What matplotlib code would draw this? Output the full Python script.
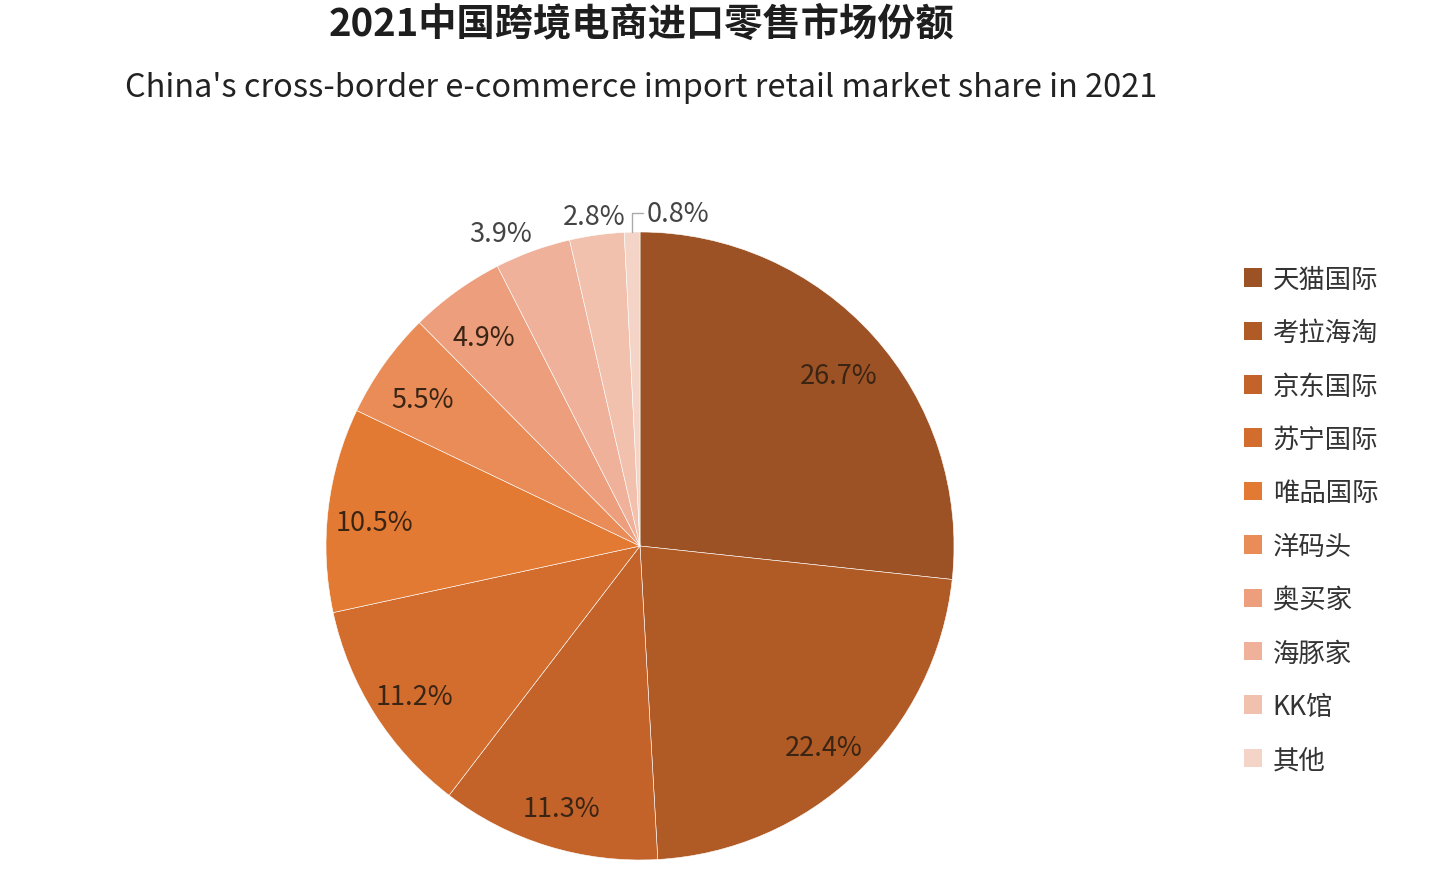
import numpy as np
import matplotlib
matplotlib.use("Agg")
import matplotlib.pyplot as plt
from matplotlib.patches import Patch

plt.rcParams['font.family'] = ['Noto Sans CJK SC', 'DejaVu Sans']

# data
names = ["天猫国际", "考拉海淘", "京东国际", "苏宁国际", "唯品国际",
         "洋码头", "奥买家", "海豚家", "KK馆", "其他"]
shares = [26.7, 22.4, 11.3, 11.2, 10.5, 5.5, 4.9, 3.9, 2.8, 0.8]
colors = ["#9C5224", "#B05A25", "#C3632A", "#D26D2E", "#E37A34",
          "#E98C58", "#EC9E7D", "#EFB19A", "#F1C1AD", "#F3D4C7"]
outside = [7, 8, 9]  # small slices labelled outside

fig = plt.figure(figsize=(14.48, 8.7), dpi=100)

fig.text(642 / 1448, 1 - 24 / 870, "2021中国跨境电商进口零售市场份额",
         ha="center", va="center", fontsize=27.5, fontweight="bold", color="#1e1e1e")
fig.text(641 / 1448, 1 - 88 / 870,
         "China's cross-border e-commerce import retail market share in 2021",
         ha="center", va="center", fontsize=23.4, color="#222222")

# pie axes: centre (640, 547) px, radius 314 px
R = 314
k = 1.3
W = 2 * R * k
ax = fig.add_axes([(640 - W / 2) / 1448, (870 - 547 - W / 2) / 870, W / 1448, W / 870])

wedges, _ = ax.pie(shares, colors=colors, startangle=90, counterclock=False,
                   radius=1, wedgeprops=dict(edgecolor="white", linewidth=0.4))
ax.set_xlim(-k, k)
ax.set_ylim(-k, k)
ax.set_aspect("equal")
ax.axis("off")

for i, (w, v) in enumerate(zip(wedges, shares)):
    mid = np.deg2rad((w.theta1 + w.theta2) / 2)
    txt = f"{v}%"
    if i not in outside:
        ax.text(0.85 * np.cos(mid), 0.85 * np.sin(mid) - 0.025, txt, ha="center",
                va="center", fontsize=19.5, color="#3a2414")
    elif i == 9:
        ax.annotate(txt, xy=(np.cos(mid), np.sin(mid)), xytext=(0.02, 1.06),
                    ha="left", va="center", fontsize=19.5, color="#444444",
                    arrowprops=dict(arrowstyle="-", color="#aaaaaa", lw=1,
                                    connectionstyle="angle,angleA=0,angleB=90,rad=0",
                                    shrinkA=0, shrinkB=0))
    else:
        r = 1.09 if i == 7 else 1.06
        a = mid + np.deg2rad(4 if i == 7 else 0)
        ax.text(r * np.cos(a), r * np.sin(a), txt, ha="center", va="center",
                fontsize=19.5, color="#444444")

handles = [Patch(facecolor=c, edgecolor="none") for c in colors]
fig.legend(handles, names, loc="upper left", bbox_to_anchor=(1220 / 1448, 1 - 243 / 870),
           frameon=False, fontsize=19, labelspacing=1.0, handlelength=0.7,
           handleheight=0.7, handletextpad=0.4, labelcolor="#333333")

fig.savefig("out.png", dpi=100)
